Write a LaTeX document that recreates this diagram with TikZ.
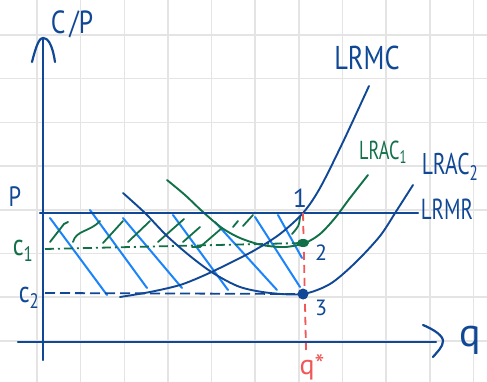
\documentclass[tikz,border=0pt]{standalone}
\usepackage{fontspec}
\setmainfont{PT Sans}
\definecolor{dblue}{RGB}{16,72,150}
\definecolor{lblue}{RGB}{28,132,250}
\definecolor{dgreen}{RGB}{16,112,72}
\definecolor{qred}{RGB}{240,88,88}
\definecolor{gridc}{RGB}{228,228,228}
\newcommand\handtxt[1]{\scalebox{0.8}[1]{#1}}
\begin{document}
\begin{tikzpicture}[x=1pt,y=-1pt,
  gridline/.style={draw=gridc,line width=1.6pt},
  axis/.style={draw=dblue,line width=2.2pt,line cap=round,line join=round},
  curve/.style={line width=1.9pt,line cap=round},
  hatchb/.style={draw=lblue,line width=2pt,line cap=round},
  hatchg/.style={draw=dgreen,line width=1.8pt,line cap=round},
  lbl/.style={inner sep=0pt,font=\fontsize{26}{28}\selectfont},
]
\useasboundingbox (0,0) rectangle (487,382);
\fill[white] (0,0) rectangle (487,382);
% grid
\foreach \i in {0,...,10} \draw[gridline] ({37+43.65*\i},0) -- ({37+43.65*\i},382);
\foreach \j in {0,...,7} \draw[gridline] (0,{35+43.7*\j}) -- (487,{35+43.7*\j});

% key points
\coordinate (p1) at (303,213);
\coordinate (p2) at (303,243);
\coordinate (p3) at (303,294);
\coordinate (qb) at (306,350);
\coordinate (ybot) at (43,360);
\coordinate (ytop) at (43,39);
\coordinate (xl) at (18,342);
\coordinate (xr) at (436,342);
\coordinate (pl) at (40,213);
\coordinate (pr) at (418,213);
\coordinate (c1l) at (45,249);
\coordinate (c2l) at (45,293);

% blue hatch
\draw[hatchb] (50,218) -- (107,295);
\draw[hatchb] (90,210) -- (147,288);
\draw[hatchb] (123,218) -- (182,288);
\draw[hatchb] (173,215) -- (228,290);
\draw[hatchb] (215,222) -- (277,290);
\draw[hatchb] (255,217) -- (300,287);
\draw[hatchb] (278,215) -- (302,258);

% green hatch
\draw[hatchg] (50,242) -- (64,224) -- (68,222);
\draw[hatchg] (73,242) .. controls (76,230) and (90,232) .. (100,221);
\draw[hatchg] (103,243) -- (123,221);
\draw[hatchg] (128,242) -- (150,221);
\draw[hatchg] (158,242) -- (184,219);
\draw[hatchg] (183,242) -- (200,227);
\draw[hatchg] (192,247) -- (200,247) -- (222,228);
\draw[hatchg] (233,227) -- (238,221);
\draw[hatchg] (243,226) -- (253,215);
\draw[hatchg] (300,217) .. controls (299,226) .. (292,234);

% dashed levels
\draw[draw=dgreen,line width=1.8pt,dash pattern=on 9pt off 4pt on 2pt off 4pt] (c1l) -- (p2);
\draw[draw=dblue,line width=1.8pt,dash pattern=on 10pt off 5pt] (c2l) -- (p3);

% curves
\draw[curve,dgreen] plot[smooth] coordinates {(167,180) (185,195) (203,212) (222,228) (240,238) (262,245) (285,247) (305,243) (320,234) (335,218) (350,198) (368,175)};
\draw[curve,dblue] plot[smooth] coordinates {(123,193) (145,213) (167,236) (190,256) (213,273) (240,287) (270,293) (303,294) (330,284) (355,263) (380,236) (397,210) (413,185)};
\draw[curve,dblue] plot[smooth] coordinates {(120,297) (150,292) (180,285) (205,275) (230,263) (255,250) (280,234) (303,213) (320,188) (343,142) (369,86)};

% P line
\draw[axis] (pl) -- (pr);
% red dashed
\draw[draw=qred,line width=1.8pt,dash pattern=on 8pt off 5pt] (p1) -- (qb);

% axes
\draw[axis] (ybot) -- (ytop);
\draw[axis] (32,62) .. controls (37,42) and (40,38) .. (43,38) .. controls (47,38) and (52,42) .. (55,62);
\draw[axis] (xl) -- (xr);
\draw[axis] (423,325) .. controls (435,330) and (443,336) .. (443,341) .. controls (443,347) and (437,352) .. (433,357);

% dots
\fill[dgreen] (p2) ellipse (6pt and 4pt);
\fill[dblue] (p3) circle (5.5pt);

% labels
\node[lbl,dblue,font=\fontsize{32}{34}\selectfont] (cp) at (72,24) {\handtxt{C\,/P}};
\node[lbl,dblue,font=\fontsize{28}{30}\selectfont] (plab) at (15,197) {\handtxt{P}};
\node[lbl,dgreen,font=\fontsize{30}{32}\selectfont] (c1lab) at (23,251) {\handtxt{c\textsubscript{1}}};
\node[lbl,dblue,font=\fontsize{30}{32}\selectfont] (c2lab) at (29,298) {\handtxt{c\textsubscript{2}}};
\node[lbl,dblue,font=\fontsize{33}{35}\selectfont] (lrmc) at (367,58) {\handtxt{LRMC}};
\node[lbl,dgreen,font=\fontsize{26}{28}\selectfont] (lrac1) at (383,152) {\scalebox{0.7}[1]{LRAC\textsubscript{1}}};
\node[lbl,dblue,font=\fontsize{30}{32}\selectfont] (lrac2) at (450,167) {\scalebox{0.72}[1]{LRAC\textsubscript{2}}};
\node[lbl,dblue,font=\fontsize{29}{31}\selectfont] (lrmr) at (447,209) {\scalebox{0.72}[1]{LRMR}};
\node[lbl,dblue,font=\fontsize{40}{42}\selectfont,anchor=base] (qlab) at (470,346) {q};
\node[lbl,dblue,font=\fontsize{26}{28}\selectfont] (one) at (300,198) {1};
\node[lbl,dblue,font=\fontsize{22}{24}\selectfont] (two) at (321,253) {2};
\node[lbl,dblue,font=\fontsize{22}{24}\selectfont] (three) at (321,308) {3};
\node[lbl,qred,font=\fontsize{28}{30}\selectfont] (qstar) at (312,367) {q*};
\end{tikzpicture}
\end{document}
